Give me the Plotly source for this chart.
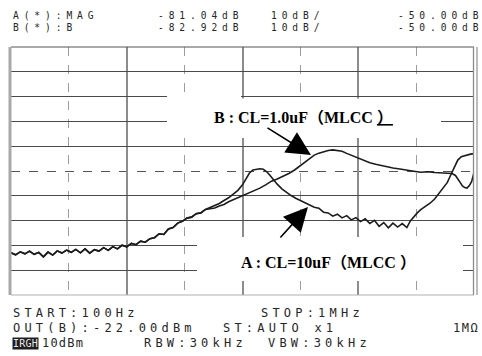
import numpy as np
import plotly.graph_objects as go

# ---- trace data: log10(frequency / Hz) and level in dB ----
# low-frequency section where both responses coincide
log_f_common = [2.00, 2.04, 2.08, 2.12, 2.16, 2.20, 2.24, 2.28, 2.32, 2.36,
                2.40, 2.44, 2.48, 2.52, 2.56, 2.60, 2.64, 2.68, 2.72, 2.76,
                2.80, 2.84, 2.88, 2.92, 2.96, 3.00, 3.04, 3.08, 3.12, 3.16,
                3.20, 3.24, 3.28, 3.32, 3.36, 3.40, 3.44, 3.48, 3.52, 3.56,
                3.60, 3.64, 3.68]
db_common = [-133.0, -133.8, -132.6, -133.4, -132.3, -133.6, -132.8, -134.6, -132.7, -133.9,
             -132.2, -133.1, -131.9, -132.8, -131.6, -133.0, -131.4, -133.1, -131.7, -132.3,
             -130.9, -132.0, -130.5, -131.4, -129.9, -130.6, -129.2, -129.7, -128.3, -128.7,
             -127.3, -126.9, -125.3, -125.6, -123.4, -122.8, -121.0, -120.3, -119.0, -118.6,
             -117.2, -116.9, -115.5]

# A : CL = 10 uF
log_f_a_tail = [3.72, 3.76, 3.80, 3.84, 3.88, 3.92, 3.96, 4.00, 4.03, 4.06,
                4.09, 4.12, 4.15, 4.18, 4.21, 4.24, 4.27, 4.30, 4.34, 4.38,
                4.42, 4.46, 4.50, 4.54, 4.58, 4.62, 4.66, 4.70, 4.74, 4.78,
                4.82, 4.86, 4.90, 4.94, 4.98, 5.02, 5.06, 5.10, 5.14, 5.18,
                5.22, 5.26, 5.30, 5.34, 5.38, 5.42, 5.45, 5.48, 5.51, 5.54,
                5.58, 5.62, 5.66, 5.70, 5.74, 5.77, 5.80, 5.83, 5.86, 5.89,
                5.93, 5.97, 6.00]
db_a_tail = [-114.7, -113.6, -113.1, -111.9, -110.8, -109.3, -107.8, -105.6, -103.0, -100.8,
             -99.6, -99.2, -99.1, -99.3, -100.3, -101.9, -103.7, -105.3, -107.2, -108.6,
             -109.9, -111.0, -111.9, -112.6, -113.5, -114.6, -115.0, -116.6, -116.9, -118.2,
             -117.4, -118.9, -118.0, -119.7, -118.8, -120.4, -119.3, -121.2, -119.9, -122.3,
             -120.8, -122.9, -121.0, -122.6, -121.2, -122.8, -120.1, -118.4, -116.9, -115.6,
             -114.3, -113.0, -111.3, -108.9, -106.7, -104.6, -101.5, -98.4, -95.6, -94.2,
             -93.6, -93.2, -93.0]

# B : CL = 1.0 uF
log_f_b_tail = [3.72, 3.76, 3.80, 3.84, 3.88, 3.92, 3.96, 4.00, 4.05, 4.10,
                4.15, 4.20, 4.25, 4.30, 4.35, 4.40, 4.45, 4.50, 4.54, 4.58,
                4.62, 4.66, 4.70, 4.74, 4.78, 4.82, 4.86, 4.90, 4.94, 4.98,
                5.02, 5.06, 5.10, 5.15, 5.20, 5.25, 5.30, 5.36, 5.42, 5.48,
                5.54, 5.60, 5.66, 5.72, 5.78, 5.81, 5.84, 5.86, 5.88, 5.90,
                5.92, 5.94, 5.96, 5.98, 6.00]
db_b_tail = [-115.2, -114.9, -114.1, -113.5, -112.4, -111.6, -110.6, -109.9, -108.8, -107.9,
             -106.9, -105.6, -104.1, -103.2, -102.2, -101.0, -99.6, -97.9, -96.4, -94.8,
             -93.6, -92.8, -92.1, -91.7, -91.5, -91.6, -92.0, -92.9, -93.7, -94.5,
             -95.3, -96.1, -96.7, -97.3, -97.9, -98.4, -98.8, -99.2, -99.8, -100.1,
             -100.5, -100.3, -100.6, -100.7, -100.9, -101.0, -101.8, -103.0, -104.6, -106.0,
             -106.7, -106.9, -105.9, -104.2, -100.6]

# screen scale: reference level and dB per division
ref_level = -50.0
db_per_div = 10.0
n_div_y = 10

# ---- page geometry (pixels) ----
W, H = 482, 356
ML, MR, MT, MB = 11, 8, 47, 61
PW, PH = W - ML - MR, H - MT - MB


def px_x(px):
    return (px - ML) / PW


def px_y(py):
    return (H - MB - py) / PH


freq_a = 10 ** np.array(log_f_common + log_f_a_tail)
db_a = np.array(db_common + db_a_tail)
freq_b = 10 ** np.array(log_f_common + log_f_b_tail)
db_b = np.array(db_common + db_b_tail)

trace_line = dict(color="#1c1c1c", width=1.6)

fig = go.Figure()
fig.add_trace(go.Scatter(x=freq_a, y=db_a, mode="lines", line=trace_line, name="A"))
fig.add_trace(go.Scatter(x=freq_b, y=db_b, mode="lines", line=trace_line, name="B"))

bottom = ref_level - db_per_div * n_div_y
center = ref_level - db_per_div * n_div_y / 2
h_grid = [ref_level - db_per_div * k for k in range(1, n_div_y) if k != n_div_y // 2]

fig.update_xaxes(
    type="log", range=[2, 6], showticklabels=False, ticks="", zeroline=False,
    showline=False,
    tickvals=[1e3, 1e4, 1e5], showgrid=True, gridcolor="#8c8c8c", gridwidth=1.7,
    minor=dict(tickvals=[10 ** 2.5, 10 ** 3.5, 10 ** 4.5, 10 ** 5.5], showgrid=True,
               gridcolor="#9c9c9c", gridwidth=1.4, griddash="dash", ticks=""),
)
fig.update_yaxes(
    range=[bottom, ref_level], showticklabels=False, ticks="", zeroline=False,
    showline=False,
    tickvals=h_grid, showgrid=True, gridcolor="#4a4a4a", gridwidth=1,
    minor=dict(tickvals=[center], showgrid=True, gridcolor="#555555",
               gridwidth=1, griddash="dash", ticks=""),
)

shapes = [
    # screen frame
    dict(type="line", xref="paper", yref="paper", x0=0, x1=1, y0=1, y1=1,
         line=dict(color="#555555", width=1.2)),
    dict(type="line", xref="paper", yref="paper", x0=0, x1=1, y0=0, y1=0,
         line=dict(color="#b0b0b0", width=1)),
    dict(type="line", xref="paper", yref="paper", x0=px_x(10), x1=px_x(10), y0=0, y1=1,
         line=dict(color="#a8a8a8", width=3)),
    dict(type="line", xref="paper", yref="paper", x0=px_x(473.5), x1=px_x(473.5), y0=0, y1=1,
         line=dict(color="#8a8a8a", width=1.3)),
    dict(type="line", xref="paper", yref="paper", x0=px_x(477), x1=px_x(477), y0=0, y1=1,
         line=dict(color="#9a9a9a", width=1.3)),
    # white label panels
    dict(type="rect", xref="paper", yref="paper", x0=px_x(167), x1=px_x(441),
         y0=px_y(138), y1=px_y(98.5), fillcolor="white", line=dict(width=0), layer="above"),
    dict(type="rect", xref="paper", yref="paper", x0=px_x(167), x1=px_x(241),
         y0=px_y(100), y1=px_y(95), fillcolor="white", line=dict(width=0), layer="above"),
    dict(type="rect", xref="paper", yref="paper", x0=px_x(197), x1=px_x(463),
         y0=px_y(281), y1=px_y(237), fillcolor="white", line=dict(width=0), layer="above"),
]

annotations = []


def lcd(lines, px, py, size, anchor="left", spacing=4.2, color="#262626", bg=None):
    text = "<br>".join(
        f'<span style="letter-spacing:{spacing}px">{s}</span>' for s in lines)
    annotations.append(dict(
        text=text, xref="paper", yref="paper", x=px_x(px), y=px_y(py),
        xanchor=anchor, yanchor="middle", align=anchor if anchor != "center" else "center",
        showarrow=False, borderpad=0,
        font=dict(family="DejaVu Sans Mono", size=size, color=color),
        bgcolor=bg,
    ))


# header readout (two rows per column)
hdr_size, hdr_sp, hdr_y = 9.6, 4.9, 21.6
lcd(["A(*):MAG", "B(*):B"], 12, hdr_y, hdr_size, spacing=hdr_sp)
lcd(["-81.04dB", "-82.92dB"], 157, hdr_y, hdr_size, spacing=hdr_sp)
lcd(["10dB/", "10dB/"], 270, hdr_y, hdr_size, spacing=hdr_sp)
lcd(["-50.00dB", "-50.00dB"], 484, hdr_y, hdr_size, anchor="right", spacing=hdr_sp)

# footer readout
lcd(["START:100Hz"], 12, 313, 12)
lcd(["STOP:1MHz"], 260, 313, 12)
lcd(["OUT(B):-22.00dBm"], 12, 328, 12)
lcd(["ST:AUTO x1"], 222, 328, 12)
lcd(["1MΩ"], 452, 328, 12, spacing=1.5)
lcd(["IRGH"], 12, 343, 10, spacing=0.2, color="#e8e8e8", bg="#1e1e1e")
lcd(["10dBm"], 41, 343, 12, spacing=1.2)
lcd(["RBW:30kHz"], 143, 343, 12)
lcd(["VBW:30kHz"], 267, 343, 12)

label_font = dict(family="Liberation Serif, Noto Sans CJK SC", size=16, color="black", weight=700)
annotations.append(dict(
    text="B : CL=1.0uF（MLCC <u>）</u>", xref="paper", yref="paper",
    x=px_x(303), y=px_y(118), xanchor="center", yanchor="middle",
    showarrow=False, font=label_font,
))
annotations.append(dict(
    text="A : CL=10uF（MLCC ）", xref="paper", yref="paper",
    x=px_x(328), y=px_y(262), xanchor="center", yanchor="middle",
    showarrow=False, font=label_font,
))

# pointer arrows
arrow_style = dict(text="", showarrow=True, arrowhead=2, arrowsize=3.0, arrowwidth=1.6,
                   arrowcolor="black", xref="paper", yref="paper", standoff=0)
annotations.append(dict(arrow_style, x=px_x(311), y=px_y(155), ax=-45, ay=-28))
annotations.append(dict(arrow_style, x=px_x(308), y=px_y(207), ax=-29, ay=32))

fig.update_layout(
    width=W, height=H, margin=dict(l=ML, r=MR, t=MT, b=MB, pad=0),
    paper_bgcolor="white", plot_bgcolor="white", showlegend=False,
    shapes=shapes, annotations=annotations,
)

fig.write_html("out.html", config={"displayModeBar": False})
